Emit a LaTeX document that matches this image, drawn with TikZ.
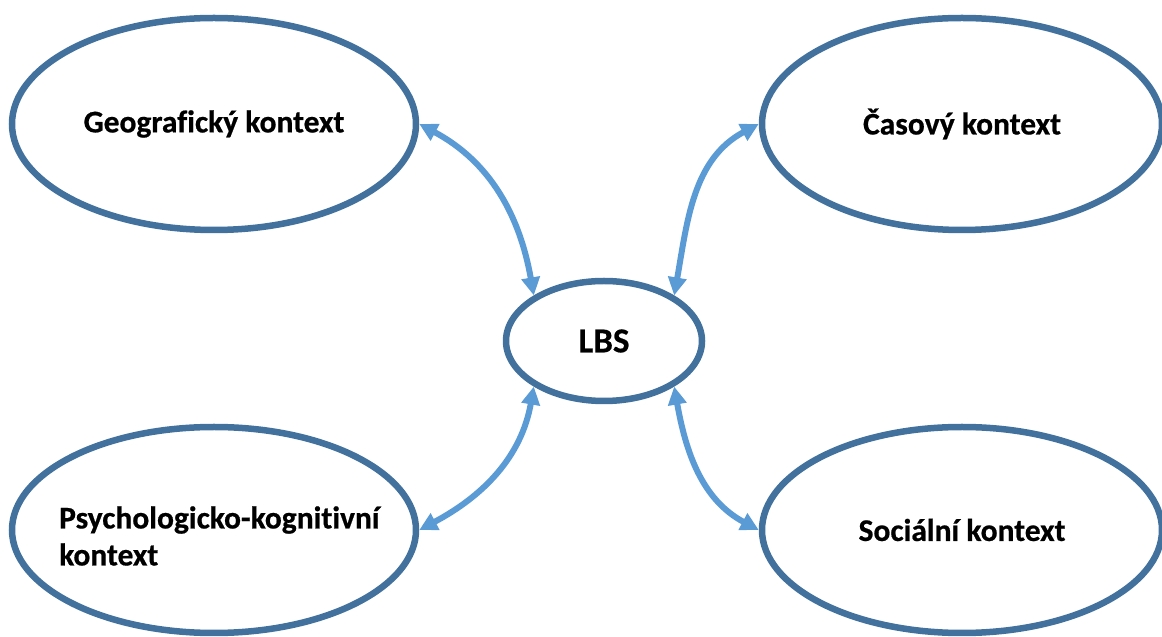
\documentclass[tikz,border=0pt]{standalone}
\usepackage{fontspec}
\setmainfont{Carlito}[Ligatures=NoCommon, BoldFeatures={FakeBold=0.6}]
\usetikzlibrary{shapes.geometric,arrows.meta}
\definecolor{ringblue}{HTML}{41719C}
\definecolor{arrowblue}{HTML}{5B9BD5}
\begin{document}
\begin{tikzpicture}[x=1pt,y=1pt,
  ctxfont/.style={font=\fontsize{31.5}{37}\selectfont\bfseries},
  ctx/.style={ellipse, draw=ringblue, line width=6.5pt, fill=white, inner sep=0pt, ctxfont},
  link/.style={draw=arrowblue, line width=6pt,
    {Triangle[length=18pt,width=18pt]}-{Triangle[length=18pt,width=18pt]}}]
\useasboundingbox (0,0) rectangle (1162,637);
\node[ctx, minimum width=404pt, minimum height=212pt] (geo) at (214,513) {Geografický kontext};
\node[ctx, minimum width=400pt, minimum height=212pt] (cas) at (962,513) {Časový kontext};
\node[ctx, minimum width=404pt, minimum height=206pt] (psy) at (214,107) {};
\node[ctxfont, align=left, anchor=west, inner sep=0pt] (psytext) at (59,101) {Psychologicko-kognitivní\\kontext};
\node[ctx, minimum width=400pt, minimum height=206pt] (soc) at (962,107) {Sociální kontext};
\node[ctx, minimum width=196pt, minimum height=120pt, font=\fontsize{35}{40}\selectfont\bfseries] (lbs) at (604,296) {LBS};
\draw[link] (geo.east) to[out=-28,in=100] (lbs.147);
\draw[link] (cas.west) to[out=208,in=80] (lbs.33);
\draw[link] (psy.east) to[out=28,in=-100] (lbs.213);
\draw[link] (soc.west) to[out=152,in=-80] (lbs.327);
\end{tikzpicture}
\end{document}
